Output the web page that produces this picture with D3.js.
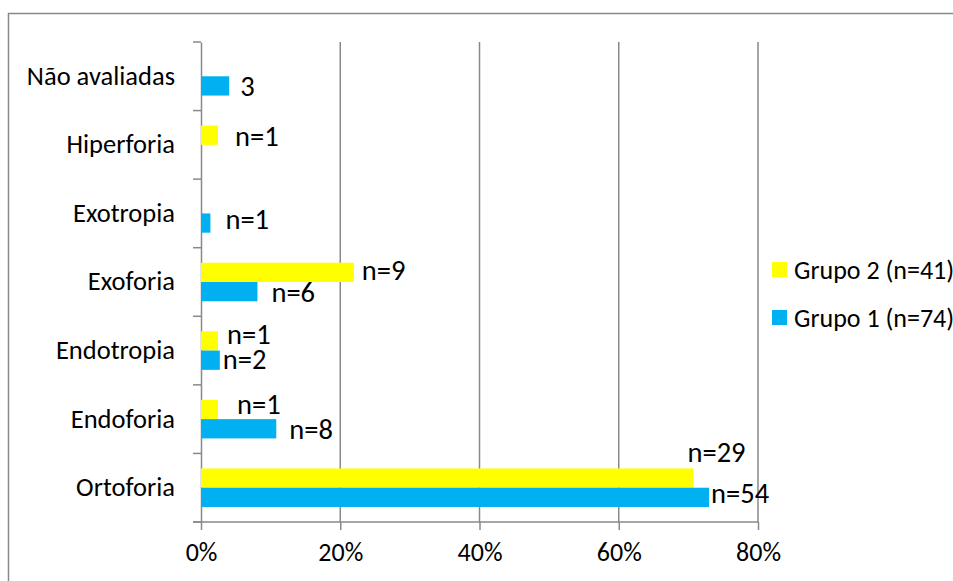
<!DOCTYPE html>
<meta charset="utf-8">
<head>
    <title>Foria por grupo</title>
    <script src="https://cdn.jsdelivr.net/npm/d3@7"></script>
    <style>
        body { margin: 0; padding: 0; background: #fff; }
        svg text { font-family: Carlito, Lato, "Open Sans", sans-serif; fill: #000; }
    </style>
</head>
<body>
<script>
    // Data
    const categories = ["Ortoforia", "Endoforia", "Endotropia", "Exoforia", "Exotropia", "Hiperforia", "Não avaliadas"];
    const grupo1Total = 74, grupo2Total = 41;
    const grupo1Counts = [54, 8, 2, 6, 1, 0, 3];
    const grupo2Counts = [29, 1, 1, 9, 0, 1, 0];
    const grupo1Labels = ["n=54", "n=8", "n=2", "n=6", "n=1", "", "3"];
    const grupo2Labels = ["n=29", "n=1", "n=1", "n=9", "", "n=1", ""];
    const xTicks = [0, 0.2, 0.4, 0.6, 0.8];
    const seriesNames = ["Grupo 2 (n=41)", "Grupo 1 (n=74)"];

    // label nudges (hand placed in the original)
    const grupo1LabelShift = [[2, -4], [13, 0], [3, -1], [14, 0], [15, -4], [0, 0], [11, 0]];
    const grupo2LabelShift = [[-6, -26], [19, -5], [9, -7], [8, -2], [0, 0], [17, 1], [0, 0]];

    const width = 953, height = 581;
    const colors = {g2: "#FFFF00", g1: "#00B0F0"};
    const grey = "#898989";

    const svg = d3.select("body").append("svg")
        .attr("width", width)
        .attr("height", height);

    // outer chart border (cut off at right/bottom)
    svg.append("rect")
        .attr("x", 8.5).attr("y", 13.5)
        .attr("width", 1000).attr("height", 1000)
        .attr("fill", "none").attr("stroke", grey).attr("stroke-width", 1.5);

    const x = d3.scaleLinear().domain([0, 0.8]).range([201, 758]);
    const y = d3.scaleBand().domain(categories.slice().reverse()).range([42, 522]).paddingInner(0);
    const ySub = d3.scaleBand().domain(["g2", "g1"]).range([0, y.bandwidth()]).paddingInner(0).paddingOuter(0.78);

    // gridlines
    svg.append("g")
        .selectAll("line")
        .data(xTicks.slice(1))
        .enter().append("line")
        .attr("x1", d => x(d)).attr("x2", d => x(d))
        .attr("y1", 42).attr("y2", 522)
        .attr("stroke", grey).attr("stroke-width", 1.5);

    // x axis
    const xAxis = svg.append("g")
        .attr("transform", "translate(0,522)")
        .call(d3.axisBottom(x).tickValues(xTicks).tickFormat(d3.format(".0%")).tickSize(8).tickSizeOuter(0).tickPadding(9));
    xAxis.select(".domain").remove();
    xAxis.append("line").attr("x1", 193).attr("x2", x(0.8)).attr("stroke", grey).attr("stroke-width", 1.5);
    xAxis.selectAll(".tick line").attr("stroke", grey).attr("stroke-width", 1.5);
    xAxis.selectAll(".tick text").attr("font-size", 26).attr("dy", "0.85em");

    // y axis
    const yAxis = svg.append("g")
        .attr("transform", "translate(201,0)")
        .call(d3.axisLeft(y).tickSize(0).tickPadding(26));
    yAxis.select(".domain").attr("stroke", grey).attr("stroke-width", 1.5);
    yAxis.selectAll(".tick text").attr("font-size", 26.5);
    yAxis.append("g")
        .selectAll("line")
        .data(d3.range(categories.length + 1))
        .enter().append("line")
        .attr("x1", -8).attr("x2", 0)
        .attr("y1", i => 42 + i * y.step()).attr("y2", i => 42 + i * y.step())
        .attr("stroke", grey).attr("stroke-width", 1.5);

    // bars
    const rows = categories.map((c, i) => ({
        cat: c,
        g1: grupo1Counts[i] / grupo1Total,
        g2: grupo2Counts[i] / grupo2Total,
        l1: grupo1Labels[i], l2: grupo2Labels[i],
        s1: grupo1LabelShift[i], s2: grupo2LabelShift[i]
    }));

    ["g2", "g1"].forEach(key => {
        const lab = key === "g1" ? "l1" : "l2";
        const sh = key === "g1" ? "s1" : "s2";
        svg.append("g")
            .selectAll("rect")
            .data(rows.filter(d => d[key] > 0))
            .enter().append("rect")
            .attr("x", x(0))
            .attr("y", d => y(d.cat) + ySub(key))
            .attr("width", d => x(d[key]) - x(0))
            .attr("height", ySub.bandwidth())
            .attr("fill", colors[key]);

        svg.append("g")
            .selectAll("text")
            .data(rows.filter(d => d[lab] !== ""))
            .enter().append("text")
            .attr("x", d => x(d[key]) + d[sh][0])
            .attr("y", d => y(d.cat) + ySub(key) + ySub.bandwidth() / 2 + d[sh][1])
            .attr("dy", "0.35em")
            .attr("font-size", 28.5)
            .text(d => d[lab]);
    });

    // legend
    const legend = svg.append("g").attr("transform", "translate(772,262)");
    const legendItem = legend.selectAll("g")
        .data(seriesNames)
        .enter().append("g")
        .attr("transform", (d, i) => `translate(0,${i * 48})`);
    legendItem.append("rect")
        .attr("width", 15).attr("height", 15)
        .attr("fill", (d, i) => i === 0 ? colors.g2 : colors.g1);
    legendItem.append("text")
        .attr("x", 22).attr("y", 7.5).attr("dy", "0.35em")
        .attr("font-size", 26)
        .text(d => d);
</script>
</body>
</html>
